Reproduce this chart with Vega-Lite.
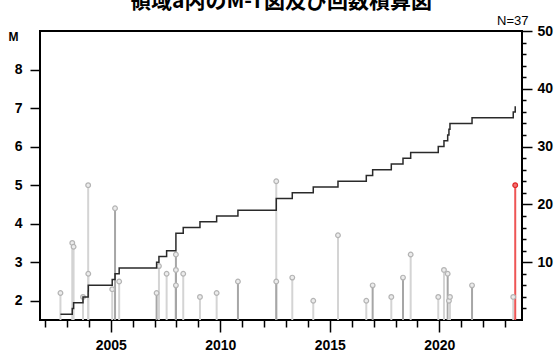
{
  "$schema": "https://vega.github.io/schema/vega-lite/v6.json",
  "width": 482,
  "height": 289,
  "autosize": {"type": "none"},
  "padding": {"left": 40, "top": 31, "right": 35, "bottom": 31},
  "background": "white",
  "title": {"text": "領域a内のM-T図及び回数積算図", "font": "Noto Sans CJK JP", "fontSize": 21, "fontWeight": "bold", "color": "black", "offset": 2},
  "config": {
    "view": {"stroke": "black", "strokeWidth": 2},
    "axis": {"labelFont": "Liberation Sans", "labelFontWeight": "bold", "labelFontSize": 14, "labelColor": "black", "tickColor": "black", "tickWidth": 1.5, "domain": false, "grid": false, "titleFont": "Liberation Sans", "titleColor": "black"}
  },
  "data": {"values": [
    {"date": "2002-09-16", "M": 2.2, "kind": "a"},
    {"date": "2003-04-01", "M": 3.5, "kind": "a"},
    {"date": "2003-04-23", "M": 3.4, "kind": "a"},
    {"date": "2003-09-27", "M": 2.1, "kind": "a"},
    {"date": "2003-12-22", "M": 5.0, "kind": "a"},
    {"date": "2003-12-24", "M": 2.7, "kind": "a"},
    {"date": "2005-01-26", "M": 2.3, "kind": "a"},
    {"date": "2005-03-14", "M": 4.4, "kind": "b"},
    {"date": "2005-05-22", "M": 2.5, "kind": "a"},
    {"date": "2007-02-05", "M": 2.2, "kind": "b"},
    {"date": "2007-03-16", "M": 2.9, "kind": "a"},
    {"date": "2007-07-22", "M": 2.7, "kind": "a"},
    {"date": "2007-12-24", "M": 3.2, "kind": "b"},
    {"date": "2007-12-24", "M": 2.8, "kind": "b"},
    {"date": "2007-12-24", "M": 2.4, "kind": "b"},
    {"date": "2008-04-24", "M": 2.7, "kind": "a"},
    {"date": "2009-01-28", "M": 2.1, "kind": "a"},
    {"date": "2009-11-02", "M": 2.2, "kind": "a"},
    {"date": "2010-10-23", "M": 2.5, "kind": "b"},
    {"date": "2012-07-23", "M": 5.1, "kind": "a"},
    {"date": "2012-07-23", "M": 2.5, "kind": "b"},
    {"date": "2013-04-16", "M": 2.6, "kind": "a"},
    {"date": "2014-04-01", "M": 2.0, "kind": "a"},
    {"date": "2015-05-18", "M": 3.7, "kind": "a"},
    {"date": "2016-09-01", "M": 2.0, "kind": "a"},
    {"date": "2016-12-16", "M": 2.4, "kind": "b"},
    {"date": "2017-10-23", "M": 2.1, "kind": "a"},
    {"date": "2018-05-06", "M": 2.6, "kind": "b"},
    {"date": "2018-09-11", "M": 3.2, "kind": "a"},
    {"date": "2019-12-15", "M": 2.1, "kind": "a"},
    {"date": "2020-03-19", "M": 2.8, "kind": "a"},
    {"date": "2020-05-20", "M": 2.7, "kind": "b"},
    {"date": "2020-06-10", "M": 2.0, "kind": "a"},
    {"date": "2020-06-27", "M": 2.1, "kind": "a"},
    {"date": "2021-06-30", "M": 2.4, "kind": "b"},
    {"date": "2023-05-18", "M": 2.1, "kind": "a"},
    {"date": "2023-06-20", "M": 5.0, "kind": "latest"}
  ]},
  "transform": [{"window": [{"op": "count", "as": "n"}], "sort": [{"field": "date"}]}],
  "layer": [
    {
      "layer": [
        {
          "mark": {"type": "rule", "strokeWidth": 2},
          "encoding": {
            "x": {
              "field": "date", "type": "temporal",
              "scale": {"domain": [{"year": 2001, "month": 10, "date": 10, "utc": true}, {"year": 2023, "month": 10, "date": 11, "utc": true}]},
              "axis": {
                "title": null,
                "values": [{"year": 2005, "utc": true}, {"year": 2010, "utc": true}, {"year": 2015, "utc": true}, {"year": 2020, "utc": true}],
                "labelExpr": "utcFormat(datum.value, '%Y')",
                "tickSize": 12,
                "labelPadding": 6,
                "labelFlush": false,
                "labelOverlap": false
              }
            },
            "y": {
              "field": "M", "type": "quantitative",
              "scale": {"domain": [1.5, 9], "nice": false, "zero": false},
              "axis": {
                "values": [2, 3, 4, 5, 6, 7, 8],
                "tickSize": 10,
                "labelPadding": 8,
                "title": "M",
                "titleAngle": 0,
                "titleX": -27,
                "titleY": 5,
                "titleAlign": "center",
                "titleBaseline": "middle",
                "titleFontSize": 12,
                "titleFontWeight": "bold"
              }
            },
            "y2": {"datum": 1.5},
            "color": {"field": "kind", "type": "nominal", "scale": {"domain": ["a", "b", "latest"], "range": ["#d4d4d4", "#a6a6a6", "#ee5555"]}, "legend": null}
          }
        },
        {
          "mark": {"type": "point", "filled": true, "size": 22, "strokeWidth": 1.2, "opacity": 1},
          "encoding": {
            "x": {"field": "date", "type": "temporal"},
            "y": {"field": "M", "type": "quantitative"},
            "fill": {"condition": {"test": "datum.kind === 'latest'", "value": "#f27070"}, "value": "#ececec"},
            "stroke": {"condition": {"test": "datum.kind === 'latest'", "value": "#e02828"}, "value": "#b4b4b4"}
          }
        }
      ]
    },
    {
      "mark": {"type": "line", "interpolate": "step-after", "color": "#2a2a2a", "strokeWidth": 1.5},
      "encoding": {
        "x": {
          "field": "date", "type": "temporal",
          "axis": {
            "title": null,
            "orient": "bottom",
            "labels": false,
            "tickSize": 7,
            "values": [
              {"year": 2002, "utc": true}, {"year": 2003, "utc": true}, {"year": 2004, "utc": true},
              {"year": 2006, "utc": true}, {"year": 2007, "utc": true}, {"year": 2008, "utc": true}, {"year": 2009, "utc": true},
              {"year": 2011, "utc": true}, {"year": 2012, "utc": true}, {"year": 2013, "utc": true},
              {"year": 2014, "utc": true}, {"year": 2016, "utc": true}, {"year": 2017, "utc": true},
              {"year": 2018, "utc": true}, {"year": 2019, "utc": true}, {"year": 2021, "utc": true},
              {"year": 2022, "utc": true}, {"year": 2023, "utc": true}
            ]
          }
        },
        "y": {
          "field": "n", "type": "quantitative",
          "scale": {"domain": [0, 50], "nice": false},
          "axis": {
            "orient": "right",
            "values": [2, 4, 6, 8, 10, 12, 14, 16, 18, 20, 22, 24, 26, 28, 30, 32, 34, 36, 38, 40, 42, 44, 46, 48, 50],
            "labelExpr": "datum.value % 10 === 0 ? datum.label : ''",
            "tickSize": {"condition": {"test": "datum.value % 10 === 0", "value": 10}, "value": 4},
            "labelPadding": 5,
            "title": "N=37",
            "titleAngle": 0,
            "titleX": 6,
            "titleY": -11,
            "titleAlign": "right",
            "titleBaseline": "middle",
            "titleFontSize": 13,
            "titleFontWeight": "normal"
          }
        }
      }
    }
  ],
  "resolve": {"scale": {"y": "independent"}, "axis": {"x": "independent"}}
}
